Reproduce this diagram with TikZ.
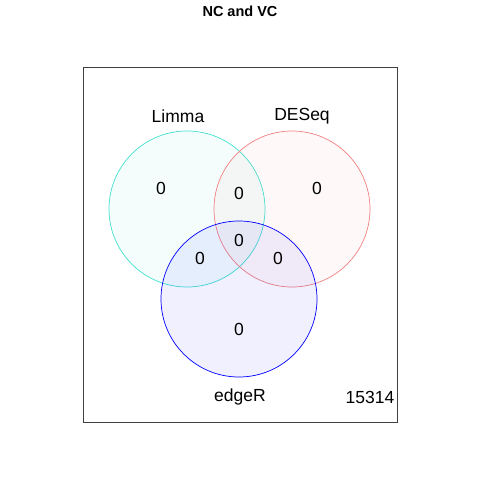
\documentclass[tikz,border=0pt]{standalone}
\usepackage{fontspec}
\setmainfont{Liberation Sans}
\usetikzlibrary{positioning}
\definecolor{mturq}{HTML}{40E0D0}
\definecolor{msalm}{HTML}{F08080}
\definecolor{mblue}{HTML}{0000FF}
\tikzstyle{setcircle} = [circle, minimum size = 156pt, inner sep = 0pt, line width = 0.7pt, fill opacity = 0.06, draw opacity = 1]
\tikzstyle{count} = [font = \fontsize{17.5}{20}\selectfont, inner sep = 0pt]
\tikzstyle{setname} = [font = \fontsize{17.5}{20}\selectfont, inner sep = 0pt]
\tikzstyle{frame} = [draw = black!75, line width = 0.6pt]

\begin{document}
\begin{tikzpicture}[x=1pt, y=-1pt]
\useasboundingbox (0,0) rectangle (480,480);
%Title and frame
\node (title) [font = \bfseries\fontsize{14.5}{16}\selectfont] at (240,11) {NC and VC};
\draw [frame] (83,67) rectangle (397,422);
%Sets
\node (limma) [setcircle, draw = mturq, fill = mturq] at (187,209) {};
\node (deseq) [setcircle, draw = msalm, fill = msalm] at (292,209) {};
\node (edger) [setcircle, draw = mblue, fill = mblue] at (239,299) {};
\node (limmalab) [setname] at (178,116) {Limma};
\node (deseqlab) [setname] at (302,116) {DESeq};
\node (edgerlab) [setname] at (240,397) {edgeR};
%Counts
\node (nl) [count] at (161,188) {0};
\node (nd) [count] at (317,188) {0};
\node (nld) [count] at (239,193) {0};
\node (nall) [count] at (239,240) {0};
\node (nle) [count] at (200,258) {0};
\node (nde) [count] at (278,258) {0};
\node (ne) [count] at (239,329) {0};
\node (nout) [count] at (370,397) {15314};
\end{tikzpicture}
\end{document}
